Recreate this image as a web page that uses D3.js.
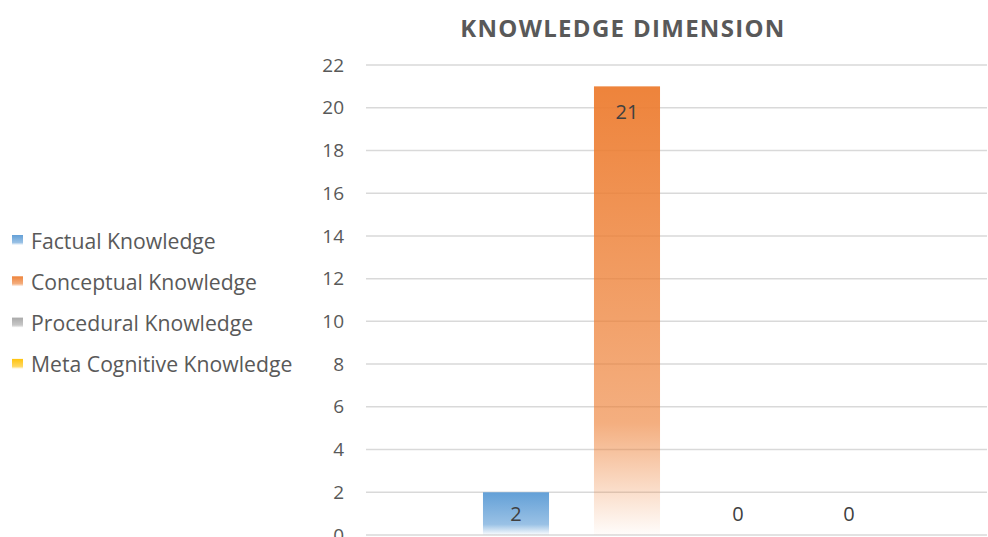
<!DOCTYPE html>
<html>
<head>
<meta charset="utf-8">
<script src="https://cdn.jsdelivr.net/npm/d3@7"></script>
<style>
  body { margin: 0; background: #fff; }
  text { font-family: "Open Sans", sans-serif; fill: #595959; }
</style>
</head>
<body>
<div id="chart"></div>
<script>
const width = 988;
const height = 537;

// data
const series = ["Factual Knowledge", "Conceptual Knowledge", "Procedural Knowledge", "Meta Cognitive Knowledge"];
const values = [2, 21, 0, 0];
const colors = ["#5b9bd5", "#ed7d31", "#a5a5a5", "#ffc000"];
const yTicks = [0, 2, 4, 6, 8, 10, 12, 14, 16, 18, 20, 22];

const svg = d3.select("#chart").append("svg")
    .attr("width", width)
    .attr("height", height);

const defs = svg.append("defs");
series.forEach((s, i) => {
    const g = defs.append("linearGradient")
        .attr("id", "grad" + i)
        .attr("x1", 0).attr("y1", 0).attr("x2", 0).attr("y2", 1);
    g.append("stop").attr("offset", "0%").attr("stop-color", colors[i]).attr("stop-opacity", 0.95);
    g.append("stop").attr("offset", "75%").attr("stop-color", colors[i]).attr("stop-opacity", 0.62);
    g.append("stop").attr("offset", "100%").attr("stop-color", colors[i]).attr("stop-opacity", 0.02);
});

// scales
const y = d3.scaleLinear().domain([0, 22]).range([535, 65]);
const x = d3.scaleBand().domain(series).range([460.5, 904.5])
    .paddingInner(0.405).paddingOuter(0.2025);

// gridlines
svg.append("g")
    .selectAll("line")
    .data(yTicks)
    .enter().append("line")
    .attr("x1", 366)
    .attr("x2", 987)
    .attr("y1", d => y(d))
    .attr("y2", d => y(d))
    .style("stroke", "#d9d9d9")
    .style("stroke-width", 1.5);

// y axis labels
const yAxis = svg.append("g")
    .attr("transform", "translate(344,0)")
    .call(d3.axisLeft(y).tickValues(yTicks).tickSize(0).tickPadding(0));
yAxis.select(".domain").remove();
yAxis.selectAll("text")
    .style("font-size", "19px")
    .style("font-family", "'Open Sans', sans-serif")
    .attr("fill", "#595959");

// bars
svg.append("g")
    .selectAll("rect")
    .data(values)
    .enter().append("rect")
    .attr("x", (d, i) => x(series[i]))
    .attr("y", d => y(d))
    .attr("width", x.bandwidth())
    .attr("height", d => y(0) - y(d))
    .style("fill", (d, i) => "url(#grad" + i + ")");

// data labels
svg.append("g")
    .selectAll("text")
    .data(values)
    .enter().append("text")
    .attr("x", (d, i) => x(series[i]) + x.bandwidth() / 2)
    .attr("y", d => Math.min(y(d) + 25, y(0) - 22))
    .attr("text-anchor", "middle")
    .attr("dominant-baseline", "central")
    .style("font-size", "20px")
    .style("fill", "#404040")
    .text(d => d);

// title
svg.append("text")
    .attr("x", 623)
    .attr("y", 27)
    .attr("text-anchor", "middle")
    .attr("dominant-baseline", "central")
    .style("font-size", "24px")
    .style("font-weight", "bold")
    .style("letter-spacing", "1.3px")
    .text("KNOWLEDGE DIMENSION");

// legend
const legend = svg.append("g")
    .selectAll("g")
    .data(series)
    .enter().append("g")
    .attr("transform", (d, i) => "translate(12," + (240 + i * 41.3) + ")");

legend.append("rect")
    .attr("x", 0)
    .attr("y", -5)
    .attr("width", 11)
    .attr("height", 10)
    .style("fill", (d, i) => "url(#grad" + i + ")");

legend.append("text")
    .attr("x", 19)
    .attr("y", 0)
    .attr("dominant-baseline", "central")
    .style("font-size", "21.2px")
    .text(d => d);
</script>
</body>
</html>
